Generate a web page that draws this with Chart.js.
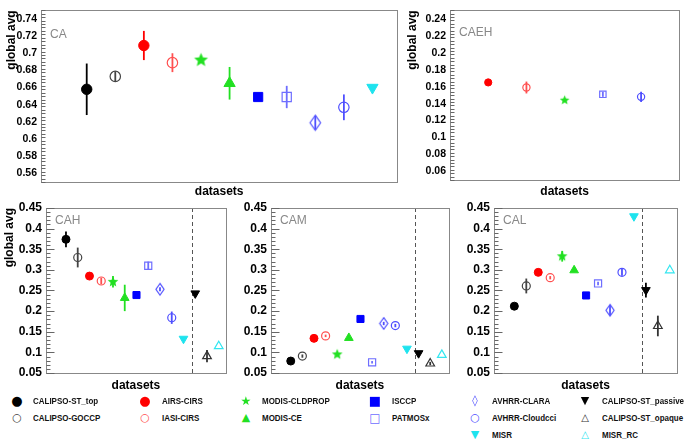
<!DOCTYPE html>
<html>
<head>
<meta charset="utf-8">
<script src="https://cdn.jsdelivr.net/npm/chart.js@4"></script>
<style>
body { margin: 0; background: #fff; font-family: "Liberation Sans", Arial, sans-serif; }
#page { position: relative; width: 685px; height: 441px; overflow: hidden; background: #fff; }
canvas { position: absolute; }
.mark { position: absolute; width: 20px; height: 16px; line-height: 16px; text-align: center; font-family: "DejaVu Sans", sans-serif; }
.name { position: absolute; height: 16px; line-height: 16px; font-size: 9.5px; font-weight: bold; white-space: nowrap; transform: scaleX(0.84); transform-origin: left center; color: #111; }
</style>
</head>
<body>
<div id="page">
  <canvas id="ca" width="405" height="199" style="left:0;top:0"></canvas>
  <canvas id="caeh" width="280" height="199" style="left:405px;top:0"></canvas>
  <canvas id="cah" width="232" height="198" style="left:0;top:195px"></canvas>
  <canvas id="cam" width="223" height="198" style="left:232px;top:195px"></canvas>
  <canvas id="cal" width="230" height="198" style="left:455px;top:195px"></canvas>
  <div id="legend"></div>
</div>
<script>
// Dataset order used by CA / CAH / CAM / CAL
const datasetNames = ['CALIPSO-ST_top', 'CALIPSO-GOCCP', 'AIRS-CIRS', 'IASI-CIRS', 'MODIS-CLDPROP', 'MODIS-CE',
    'ISCCP', 'PATMOSx', 'AVHRR-CLARA', 'AVHRR-Cloudcci', 'MISR', 'CALIPSO-ST_passive', 'CALIPSO-ST_opaque', 'MISR_RC'];

// CA: first 11 datasets
const caNames = datasetNames.slice(0, 11);
const caValues = [0.658, 0.673, 0.709, 0.689, 0.692, 0.665, 0.649, 0.649, 0.619, 0.637, 0.660];
const caErrors = [0.030, 0.006, 0.017, 0.011, 0.003, 0.019, 0, 0.013, 0.008, 0.015, 0];

// CAEH: only 5 datasets
const caehNames = ['AIRS-CIRS', 'IASI-CIRS', 'MODIS-CLDPROP', 'PATMOSx', 'AVHRR-Cloudcci'];
const caehValues = [0.165, 0.159, 0.144, 0.151, 0.148];
const caehErrors = [0, 0.007, 0.002, 0.003, 0.006];

const cahValues = [0.374, 0.330, 0.285, 0.273, 0.271, 0.232, 0.239, 0.310, 0.253, 0.184, 0.133, 0.243, 0.091, 0.115];
const cahErrors = [0.019, 0.024, 0, 0.008, 0.014, 0.032, 0.005, 0.010, 0.005, 0.015, 0, 0, 0.015, 0];

const camValues = [0.079, 0.091, 0.134, 0.140, 0.095, 0.135, 0.181, 0.076, 0.170, 0.165, 0.109, 0.098, 0.073, 0.094];
const camErrors = [0, 0.004, 0, 0.003, 0, 0, 0, 0.003, 0.004, 0.004, 0, 0.004, 0.004, 0];

const calValues = [0.212, 0.261, 0.294, 0.281, 0.333, 0.299, 0.238, 0.267, 0.202, 0.294, 0.430, 0.251, 0.164, 0.299];
const calErrors = [0.007, 0.018, 0, 0.004, 0.013, 0, 0, 0.004, 0.012, 0.008, 0, 0.018, 0.025, 0];

// tick labels
const caTicks = [0.56, 0.58, 0.6, 0.62, 0.64, 0.66, 0.68, 0.7, 0.72, 0.74];
const caehTicks = [0.06, 0.08, 0.1, 0.12, 0.14, 0.16, 0.18, 0.2, 0.22, 0.24];
const lowTicks = [0.05, 0.1, 0.15, 0.2, 0.25, 0.3, 0.35, 0.4, 0.45];

// dashed separator between passive/active groups (in dataset index units)
const separatorPos = 10.7;

const markerStyles = {
    'CALIPSO-ST_top':     { shape: 'circle', color: '#000000', filled: true },
    'CALIPSO-GOCCP':      { shape: 'circle', color: '#444444', filled: false },
    'AIRS-CIRS':          { shape: 'circle', color: '#ff0000', filled: true },
    'IASI-CIRS':          { shape: 'circle', color: '#ff5050', filled: false },
    'MODIS-CLDPROP':      { shape: 'star', color: '#22e022', filled: true },
    'MODIS-CE':           { shape: 'triangle', color: '#22e022', filled: true },
    'ISCCP':              { shape: 'rect', color: '#0000ff', filled: true },
    'PATMOSx':            { shape: 'rect', color: '#6e6eff', filled: false },
    'AVHRR-CLARA':        { shape: 'diamond', color: '#4f4fff', filled: false },
    'AVHRR-Cloudcci':     { shape: 'circle', color: '#4f4fff', filled: false },
    'MISR':               { shape: 'down', color: '#1ee3ee', filled: true },
    'CALIPSO-ST_passive': { shape: 'down', color: '#000000', filled: true },
    'CALIPSO-ST_opaque':  { shape: 'triangle', color: '#333333', filled: false },
    'MISR_RC':            { shape: 'triangle', color: '#33e6f0', filled: false }
};

Chart.defaults.font.family = '"Liberation Sans", Arial, sans-serif';

function starImage(r, color) {
    const c = document.createElement('canvas');
    c.width = c.height = Math.ceil(2 * r + 2);
    const g = c.getContext('2d');
    const m = c.width / 2;
    g.beginPath();
    for (let i = 0; i < 10; i++) {
        const a = -Math.PI / 2 + i * Math.PI / 5;
        const rr = i % 2 ? r * 0.45 : r;
        g.lineTo(m + rr * Math.cos(a), m + rr * Math.sin(a));
    }
    g.closePath();
    g.fillStyle = color;
    g.fill();
    return c;
}

function diamondImage(r, color) {
    const c = document.createElement('canvas');
    c.width = Math.ceil(1.5 * r + 3);
    c.height = Math.ceil(2 * r + 3);
    const g = c.getContext('2d');
    const mx = c.width / 2, my = c.height / 2;
    g.beginPath();
    g.moveTo(mx, my - r);
    g.lineTo(mx + 0.7 * r, my);
    g.lineTo(mx, my + r);
    g.lineTo(mx - 0.7 * r, my);
    g.closePath();
    g.strokeStyle = color;
    g.lineWidth = 1.2;
    g.stroke();
    return c;
}

function pointOpts(name, k) {
    const s = markerStyles[name];
    const o = {
        pointBorderColor: s.color,
        pointBackgroundColor: s.filled ? s.color : 'rgba(0,0,0,0)',
        pointBorderWidth: s.filled ? 1 : 1.2,
        pointRotation: 0,
        pointStyle: s.shape,
        pointRadius: 5 * k
    };
    if (s.shape === 'circle') o.pointRadius = 4 * k;
    if (s.shape === 'down') { o.pointStyle = 'triangle'; o.pointRotation = 180; }
    if (s.shape === 'star') o.pointStyle = starImage(5.6 * k, s.color);
    if (s.shape === 'diamond') o.pointStyle = diamondImage(5.8 * k, s.color);
    return o;
}

// vertical error bars, drawn over the markers
const errorBars = {
    id: 'errorBars',
    afterDatasetsDraw(chart) {
        const { ctx, scales: { x, y } } = chart;
        chart.data.datasets.forEach(ds => {
            ds.data.forEach((p, i) => {
                const e = ds.errors[i];
                if (!e) return;
                const px = x.getPixelForValue(p.x);
                ctx.save();
                ctx.strokeStyle = ds.pointBorderColor;
                ctx.lineWidth = 1.8;
                ctx.beginPath();
                ctx.moveTo(px, y.getPixelForValue(p.y - e));
                ctx.lineTo(px, y.getPixelForValue(p.y + e));
                ctx.stroke();
                ctx.restore();
            });
        });
    }
};

// frame, inward ticks, panel name and separator line
const panelFrame = {
    id: 'panelFrame',
    beforeDatasetsDraw(chart, args, opts) {
        if (opts.separator == null) return;
        const { ctx, chartArea: a, scales: { x } } = chart;
        const px = Math.round(x.getPixelForValue(opts.separator)) + 0.5;
        ctx.save();
        ctx.strokeStyle = '#555';
        ctx.lineWidth = 1;
        ctx.setLineDash([4, 3]);
        ctx.beginPath();
        ctx.moveTo(px, a.top);
        ctx.lineTo(px, a.bottom);
        ctx.stroke();
        ctx.restore();
    },
    afterDraw(chart, args, opts) {
        const { ctx, chartArea: a, scales: { y } } = chart;
        ctx.save();
        ctx.strokeStyle = '#888';
        ctx.lineWidth = 1;
        ctx.strokeRect(Math.round(a.left) + 0.5, Math.round(a.top) + 0.5,
            Math.round(a.right - a.left), Math.round(a.bottom - a.top));
        ctx.strokeStyle = '#666';
        const left = Math.round(a.left) + 0.5;
        for (let v = y.min; v <= y.max + 1e-9; v += opts.minor) {
            const py = Math.round(y.getPixelForValue(v)) + 0.5;
            const major = opts.ticks.some(t => Math.abs(t - v) < 1e-6);
            ctx.beginPath();
            ctx.moveTo(left, py);
            ctx.lineTo(left + (major ? 8 : 4), py);
            ctx.stroke();
        }
        ctx.fillStyle = '#888';
        ctx.font = '12px "Liberation Sans", Arial, sans-serif';
        ctx.textBaseline = 'middle';
        ctx.fillText(opts.label, a.left + 9, a.top + opts.labelDy);
        ctx.restore();
    }
};

function makePanel(id, cfg) {
    const datasets = cfg.names.map((name, i) => Object.assign({
        label: name,
        data: [{ x: i, y: cfg.values[i] }],
        errors: [cfg.errors[i]],
        showLine: false
    }, pointOpts(name, cfg.size)));

    new Chart(document.getElementById(id), {
        type: 'scatter',
        data: { datasets: datasets },
        plugins: [errorBars, panelFrame],
        options: {
            responsive: false,
            animation: false,
            events: [],
            layout: { padding: cfg.padding },
            plugins: {
                legend: { display: false },
                tooltip: { enabled: false },
                panelFrame: { label: cfg.label, labelDy: cfg.labelDy, ticks: cfg.ticks, minor: cfg.minor, separator: cfg.separator }
            },
            scales: {
                x: {
                    type: 'linear', min: cfg.xMin, max: cfg.xMax,
                    ticks: { display: false },
                    grid: { display: false, drawTicks: false },
                    border: { display: false },
                    title: { display: true, text: 'datasets', color: '#000', font: { size: 12, weight: 'bold' }, padding: 0 },
                    afterFit: s => { s.height = cfg.xHeight; }
                },
                y: {
                    type: 'linear', min: cfg.yMin, max: cfg.yMax,
                    afterBuildTicks: s => { s.ticks = cfg.ticks.map(v => ({ value: v })); },
                    ticks: {
                        color: '#000', padding: 4, font: { size: cfg.tickSize, weight: 'bold' },
                        callback: v => String(parseFloat(v.toFixed(3)))
                    },
                    grid: { display: false, drawTicks: false },
                    border: { display: false },
                    title: {
                        display: cfg.yTitle != null, text: 'global avg', align: 'end', color: '#000',
                        font: { size: 12, weight: 'bold' }, padding: { top: cfg.yTitle || 0, bottom: 0 }
                    },
                    afterFit: s => { s.width = cfg.yWidth; }
                }
            }
        }
    });
}

makePanel('ca', {
    names: caNames, values: caValues, errors: caErrors, size: 1.3,
    xMin: -1.6, xMax: 10.87, yMin: 0.55, yMax: 0.75, ticks: caTicks, minor: 0.004, tickSize: 10.5,
    padding: { left: 0, top: 5, right: 6, bottom: 0 }, yWidth: 41, xHeight: 17, yTitle: 4,
    label: 'CA', labelDy: 24
});
makePanel('caeh', {
    names: caehNames, values: caehValues, errors: caehErrors, size: 0.9,
    xMin: -1, xMax: 5, yMin: 0.05, yMax: 0.25, ticks: caehTicks, minor: 0.004, tickSize: 10.5,
    padding: { left: 0, top: 5, right: 3, bottom: 0 }, yWidth: 45, xHeight: 19, yTitle: 0,
    label: 'CAEH', labelDy: 22
});
makePanel('cah', {
    names: datasetNames, values: cahValues, errors: cahErrors, size: 1,
    xMin: -1.7, xMax: 13.6, yMin: 0.05, yMax: 0.45, ticks: lowTicks, minor: 0.01, tickSize: 12,
    padding: { left: 0, top: 13, right: 1, bottom: 0 }, yWidth: 46, xHeight: 20, yTitle: 2,
    label: 'CAH', labelDy: 13, separator: separatorPos
});
makePanel('cam', {
    names: datasetNames, values: camValues, errors: camErrors, size: 1,
    xMin: -1.7, xMax: 13.6, yMin: 0.05, yMax: 0.45, ticks: lowTicks, minor: 0.01, tickSize: 12,
    padding: { left: 0, top: 13, right: 2, bottom: 0 }, yWidth: 39, xHeight: 20,
    label: 'CAM', labelDy: 13, separator: separatorPos
});
makePanel('cal', {
    names: datasetNames, values: calValues, errors: calErrors, size: 1,
    xMin: -1.7, xMax: 13.6, yMin: 0.05, yMax: 0.45, ticks: lowTicks, minor: 0.01, tickSize: 12,
    padding: { left: 0, top: 13, right: 8, bottom: 0 }, yWidth: 39, xHeight: 20,
    label: 'CAL', labelDy: 13, separator: separatorPos
});

// legend grid under the panels
const legendColumns = [
    { markerX: 17, textX: 33, items: ['CALIPSO-ST_top', 'CALIPSO-GOCCP'] },
    { markerX: 145, textX: 162, items: ['AIRS-CIRS', 'IASI-CIRS'] },
    { markerX: 246, textX: 262, items: ['MODIS-CLDPROP', 'MODIS-CE'] },
    { markerX: 375, textX: 392, items: ['ISCCP', 'PATMOSx'] },
    { markerX: 475, textX: 492, items: ['AVHRR-CLARA', 'AVHRR-Cloudcci', 'MISR'] },
    { markerX: 585, textX: 602, items: ['CALIPSO-ST_passive', 'CALIPSO-ST_opaque', 'MISR_RC'] }
];
const legendRowsY = [401, 418, 435];

// [filled glyph, open glyph, filled size, open size]
const glyphs = {
    circle: ['\u25CF', '\u25CB', 13, 11], star: ['\u2605', '\u2605', 12, 12], triangle: ['\u25B2', '\u25B3', 11, 10],
    down: ['\u25BC', '\u25BD', 11, 10], rect: ['\u25A0', '\u25A1', 13, 12], diamond: ['\u25CA', '\u25CA', 11, 11]
};

const legend = document.getElementById('legend');
legendColumns.forEach(col => {
    col.items.forEach((name, r) => {
        const s = markerStyles[name];
        const g = glyphs[s.shape];
        const y = legendRowsY[r];
        const m = document.createElement('span');
        m.className = 'mark';
        m.textContent = s.filled ? g[0] : g[1];
        m.style.left = (col.markerX - 10) + 'px';
        m.style.top = (y - 8) + 'px';
        m.style.fontSize = (s.filled ? g[2] : g[3]) + 'px';
        m.style.color = s.color;
        legend.appendChild(m);
        const t = document.createElement('span');
        t.className = 'name';
        t.textContent = name;
        t.style.left = col.textX + 'px';
        t.style.top = (y - 8) + 'px';
        legend.appendChild(t);
    });
});
</script>
</body>
</html>
